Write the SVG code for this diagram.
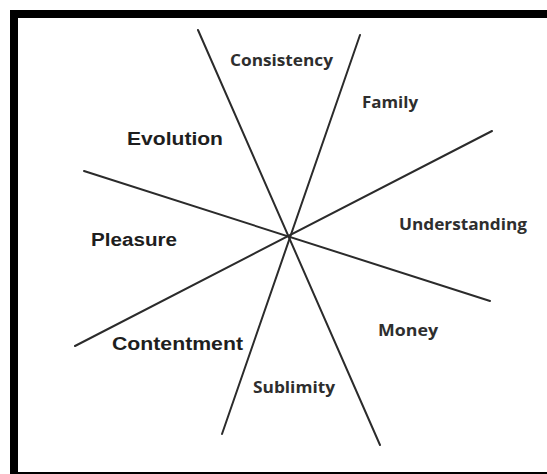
<svg xmlns="http://www.w3.org/2000/svg" width="547" height="474" viewBox="0 0 547 474">
<style>
.frame{fill:none;stroke:#000;stroke-width:8}
.spoke{stroke:#2b2b2b;stroke-width:2;stroke-linecap:round}
.lbl{font-family:"Open Sans","Noto Sans",sans-serif;font-weight:bold;font-size:16px;fill:#2e2e2e}
.big{font-family:"Liberation Sans",Arial,sans-serif;font-weight:bold;font-size:18px;fill:#1e1e1e}
</style>
<rect x="0" y="0" width="547" height="474" fill="#fff"/>
<rect class="frame" x="14" y="14" width="600" height="462"/>
<g id="connectors">
<line class="spoke" x1="198" y1="30" x2="380" y2="445"/>
<line class="spoke" x1="360" y1="35" x2="222" y2="434"/>
<line class="spoke" x1="492" y1="131" x2="75" y2="346"/>
<line class="spoke" x1="84" y1="171" x2="490" y2="301"/>
</g>
<g id="consistency"><text class="lbl" x="230" y="66" textLength="103" lengthAdjust="spacingAndGlyphs">Consistency</text></g>
<g id="family"><text class="lbl" x="362" y="108" textLength="56" lengthAdjust="spacingAndGlyphs">Family</text></g>
<g id="understanding"><text class="lbl" x="399" y="230" textLength="128" lengthAdjust="spacingAndGlyphs">Understanding</text></g>
<g id="money"><text class="lbl" x="378" y="336" textLength="60" lengthAdjust="spacingAndGlyphs">Money</text></g>
<g id="sublimity"><text class="lbl" x="253" y="393" textLength="82" lengthAdjust="spacingAndGlyphs">Sublimity</text></g>
<g id="evolution"><text class="big" x="127" y="145" textLength="96" lengthAdjust="spacingAndGlyphs">Evolution</text></g>
<g id="pleasure"><text class="big" x="91" y="246" textLength="86" lengthAdjust="spacingAndGlyphs">Pleasure</text></g>
<g id="contentment"><text class="big" x="112" y="350" textLength="131" lengthAdjust="spacingAndGlyphs">Contentment</text></g>
</svg>
